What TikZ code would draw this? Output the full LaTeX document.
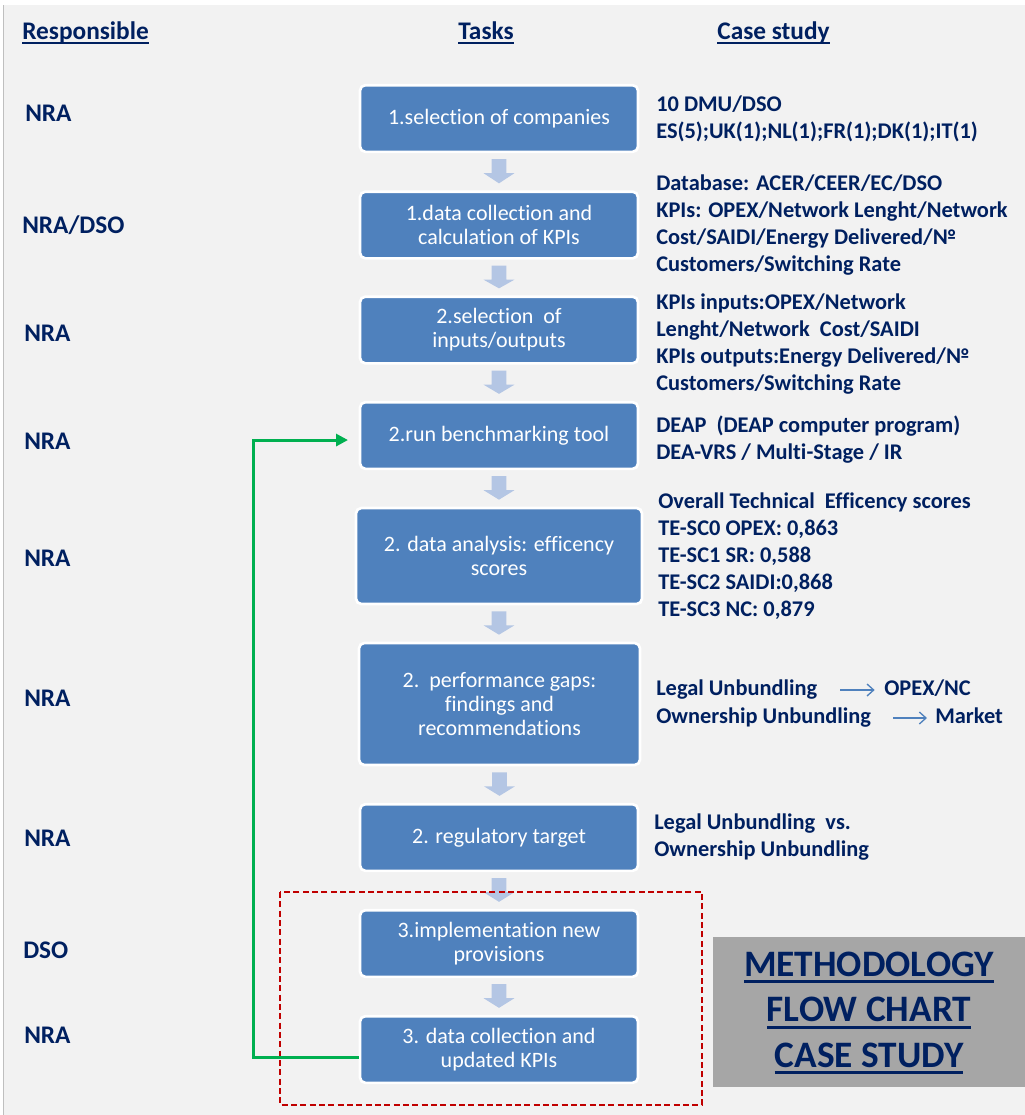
\documentclass[tikz,border=0pt]{standalone}
\usepackage{fontspec}
\setmainfont{Carlito}[Ligatures=NoCommon]
\usetikzlibrary{arrows.meta,calc}
\definecolor{navy}{RGB}{0,32,96}
\definecolor{boxblue}{RGB}{79,129,189}
\definecolor{arrowgray}{RGB}{180,198,228}
\definecolor{bggray}{RGB}{242,242,242}
\definecolor{titlegray}{RGB}{166,166,166}
\definecolor{dashred}{RGB}{192,0,0}
\definecolor{flowgreen}{RGB}{0,176,80}
\newlength\myULd \setlength\myULd{3.5pt}
\newlength\myULt \setlength\myULt{1.6pt}
\newcommand\uln[1]{\setbox0=\hbox{#1}\rlap{\copy0}\rule[-\myULd]{\wd0}{\myULt}}
\newcommand\blockarr[2]{%
  \fill[arrowgray] let \p1=(#1.south), \p2=(#2.north) in
    (\x1-5.6pt,\y1-4.5pt) -- (\x1+5.6pt,\y1-4.5pt) -- (\x1+5.6pt,\y1-15pt)
    -- (\x1+11.6pt,\y1-15pt) -- (\x1,\y2+5.25pt) -- (\x1-11.6pt,\y1-15pt)
    -- (\x1-5.6pt,\y1-15pt) -- cycle;}
\begin{document}
\begin{tikzpicture}[x=0.75pt,y=-0.75pt,
  taskbox/.style={rectangle, rounded corners=4pt, fill=boxblue, draw=white,
    line width=2pt, text=white, align=center, inner sep=2pt,
    font=\fontsize{16.5}{18}\selectfont, minimum width=208.5pt, minimum height=50pt},
  resp/.style={anchor=west, inner sep=0pt, text=navy, font=\fontsize{19}{22}\selectfont\bfseries},
  header/.style={inner sep=0pt, text=navy, font=\fontsize{19}{22}\selectfont\bfseries},
  case/.style={anchor=west, inner sep=0pt, text=navy, align=left,
    font=\fontsize{16.8}{20.25}\selectfont\bfseries},
  caseword/.style={anchor=west, inner sep=0pt, text=navy, text height=12pt, text depth=3.5pt,
    font=\fontsize{16.8}{20.25}\selectfont\bfseries},
  smallarrow/.style={draw=boxblue, line width=1pt, -{Straight Barb[length=5pt,width=9pt]}},
  feedback/.style={draw=flowgreen, line width=2.2pt, -{Triangle[length=9pt,width=9pt]}}
]
\useasboundingbox (0,0) rectangle (1025,1115);
\fill[white] (0,0) rectangle (1025,1115);
\fill[bggray] (3,5) rectangle (1025,1115);
\draw[gray!50, line width=0.8pt] (3.5,5) -- (3.5,1115);

% headers
\node[header, anchor=base west] (hresp) at (22,39) {\uln{Responsible}};
\node[header, anchor=base] (htask) at (486,39) {\uln{Tasks}};
\node[header, anchor=base] (hcase) at (773.5,39) {\uln{Case study}};

% task boxes
\node[taskbox] (b1) at (499,118.5) {1.selection of companies};
\node[taskbox] (b2) at (499,225) {1.data collection and\\calculation of KPIs};
\node[taskbox] (b3) at (499,330) {2.selection\ \ of\\inputs/outputs};
\node[taskbox] (b4) at (499,435.5) {2.run benchmarking tool};
\node[taskbox, minimum width=214.5pt, minimum height=72pt] (b5) at (499,556) {2. data analysis: efficency\\scores};
\node[taskbox, minimum width=210.75pt, minimum height=91.5pt] (b6) at (499.5,704) {2.\ \ performance gaps:\\findings and\\recommendations};
\node[taskbox] (b7) at (499,837.5) {2. regulatory target};
\node[taskbox] (b8) at (499,943.5) {3.implementation new\\provisions};
\node[taskbox] (b9) at (499,1049.5) {3. data collection and\\updated KPIs};

% block arrows
\blockarr{b1}{b2}
\blockarr{b2}{b3}
\blockarr{b3}{b4}
\blockarr{b4}{b5}
\blockarr{b5}{b6}
\blockarr{b6}{b7}
\blockarr{b7}{b8}
\blockarr{b8}{b9}

% responsible
\node[resp] (r1) at (25,113) {NRA};
\node[resp] (r2) at (22,225) {NRA/DSO};
\node[resp] (r3) at (24,333) {NRA};
\node[resp] (r4) at (24,441) {NRA};
\node[resp] (r5) at (24,558) {NRA};
\node[resp] (r6) at (24,698) {NRA};
\node[resp] (r7) at (24,838) {NRA};
\node[resp] (r8) at (23,950) {DSO};
\node[resp] (r9) at (24,1035) {NRA};

% case study texts
\node[case] (c1) at (656,118.5) {10 DMU/DSO\\ES(5);UK(1);NL(1);FR(1);DK(1);IT(1)};
\node[case] (c2) at (656,225.5) {Database: ACER/CEER/EC/DSO\\KPIs: OPEX/Network Lenght/Network\\Cost/SAIDI/Energy Delivered/№\\Customers/Switching Rate};
\node[case] (c3) at (656,344) {KPIs inputs:OPEX/Network\\Lenght/Network\ \ Cost/SAIDI\\KPIs outputs:Energy Delivered/№\\Customers/Switching Rate};
\node[case] (c4) at (656,439.5) {DEAP\ \ (DEAP computer program)\\DEA-VRS / Multi-Stage / IR};
\node[case] (c5) at (658,556) {Overall Technical\ \ Efficency scores\\TE-SC0 OPEX: 0,863\\TE-SC1 SR: 0,588\\TE-SC2 SAIDI:0,868\\TE-SC3 NC: 0,879};
\node[caseword] (l1) at (656,690) {Legal Unbundling};
\node[caseword] (o1) at (884,690) {OPEX/NC};
\node[caseword] (l2) at (656,718) {Ownership Unbundling};
\node[caseword] (o2) at (935,718) {Market};
\draw[smallarrow, shorten <=17pt, shorten >=7pt] (l1.east) -- (l1.east -| o1.west);
\draw[smallarrow, shorten <=16.5pt, shorten >=6pt] (l2.east) -- (l2.east -| o2.west);
\node[case] (c7) at (654,837.5) {Legal Unbundling\ \ vs.\\Ownership Unbundling};

% dashed frame
\draw[dashred, line width=1.8pt, dash pattern=on 4.5pt off 2.5pt] (280,892) rectangle (702,1105);

% title box
\fill[titlegray] (713,937) rectangle (1025,1087);
\node[inner sep=0pt, text=navy, align=center,
  font=\fontsize{28}{34}\selectfont\bfseries\setlength\myULt{2.2pt}\setlength\myULd{5pt}] (title) at (869,1013)
  {\uln{METHODOLOGY}\\\uln{FLOW CHART}\\\uln{CASE STUDY}};

% feedback loop
\draw[feedback, shorten >=8pt] ([yshift=-6pt]b9.west) -- ++(-105,0) |- ([yshift=-3.4pt]b4.west);
\end{tikzpicture}
\end{document}
